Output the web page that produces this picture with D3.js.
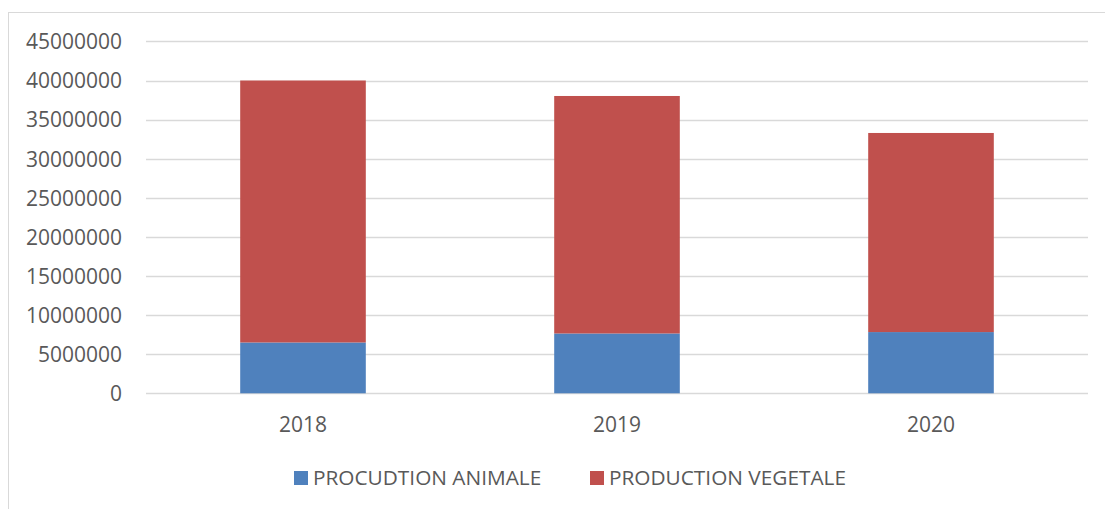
<!DOCTYPE html>
<html><head><meta charset="utf-8">
<script src="https://cdn.jsdelivr.net/npm/d3@7"></script>
<style>body{margin:0;background:#fff}svg{display:block}text{font-family:"Open Sans",sans-serif;fill:#595959}</style>
</head><body>
<svg id="c" width="1105" height="509"></svg>
<script>
const years = ["2018", "2019", "2020"];
const animale = [6500000, 7650000, 7830000];
const vegetale = [33500000, 30370000, 25460000];
const yTicks = [0, 5000000, 10000000, 15000000, 20000000, 25000000, 30000000, 35000000, 40000000, 45000000];
const seriesNames = ["PROCUDTION ANIMALE", "PRODUCTION VEGETALE"];
const colors = ["#4f81bd", "#c0504d"];

const svg = d3.select("#c");
svg.append("rect").attr("x", 8.5).attr("y", 12.5).attr("width", 1110).attr("height", 520)
  .attr("fill", "none").attr("stroke", "#d9d9d9").attr("stroke-width", 1);

const x = d3.scaleBand().domain(years).range([146, 1088]).paddingInner(0.6).paddingOuter(0.3);
const y = d3.scaleLinear().domain([0, 45000000]).range([393.3, 41.4]);

// gridlines
svg.append("g").selectAll("line").data(yTicks).join("line")
  .attr("x1", 146).attr("x2", 1088)
  .attr("y1", d => Math.round(y(d)) + 0.5).attr("y2", d => Math.round(y(d)) + 0.5)
  .attr("stroke", "#d9d9d9").attr("stroke-width", 1.4);

// y axis labels
const yAxis = d3.axisLeft(y).tickValues(yTicks).tickSize(0).tickPadding(0).tickFormat(d => String(d));
const ga = svg.append("g").attr("transform", "translate(122,0)").call(yAxis);
ga.select(".domain").remove();
ga.selectAll("text").attr("font-size", 21).attr("font-family", "'Open Sans',sans-serif").attr("fill", "#595959").attr("dy", "0.35em");

// x axis labels
const xAxis = d3.axisBottom(x).tickSize(0).tickPadding(0);
const gx = svg.append("g").attr("transform", "translate(0,417)").call(xAxis);
gx.select(".domain").remove();
gx.selectAll("text").attr("font-size", 21).attr("font-family", "'Open Sans',sans-serif").attr("fill", "#595959").attr("dy", "0.71em");

// stacked bars
const table = years.map((yr, i) => ({year: yr, a: animale[i], v: vegetale[i]}));
const stack = d3.stack().keys(["a", "v"])(table);
svg.append("g").selectAll("g").data(stack).join("g").attr("fill", (d, i) => colors[i])
  .selectAll("rect").data(d => d).join("rect")
  .attr("x", d => x(d.data.year)).attr("width", x.bandwidth())
  .attr("y", d => y(d[1])).attr("height", d => y(d[0]) - y(d[1]));

// legend
const legX = [294, 590];
const lg = svg.append("g");
seriesNames.forEach((n, i) => {
  lg.append("rect").attr("x", legX[i]).attr("y", 471).attr("width", 14).attr("height", 14).attr("fill", colors[i]);
  lg.append("text").attr("x", legX[i] + 19).attr("y", 485).attr("font-size", 20.8).text(n);
});
</script>
</body></html>
